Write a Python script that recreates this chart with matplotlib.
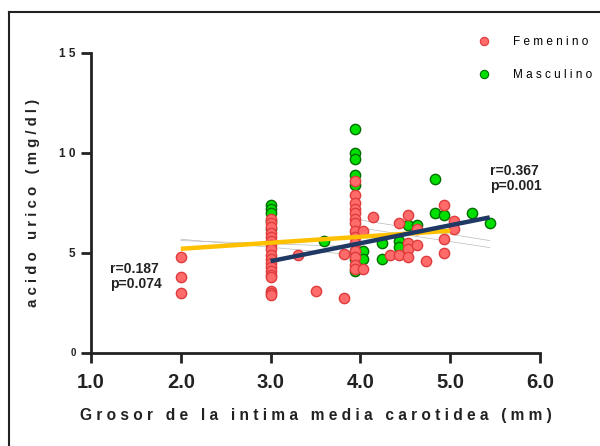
import matplotlib
matplotlib.use("Agg")
import matplotlib.pyplot as plt
from matplotlib.lines import Line2D

plt.rcParams['font.family'] = ['Liberation Sans', 'DejaVu Sans']

# Femenino points (grosor, acido urico)
fem_x = [2.0, 2.0, 2.0,
         3.0, 3.0, 3.0, 3.0, 3.0, 3.0, 3.0, 3.0, 3.0, 3.0, 3.0, 3.0, 3.0, 3.0, 3.0, 3.0, 3.0, 3.0,
         3.3, 3.5, 3.82, 3.82,
         3.94, 3.94, 3.94, 3.94, 3.94, 3.94, 3.94, 3.94, 3.94, 3.94, 3.94, 3.94, 3.94, 3.94,
         4.03, 4.03, 4.14, 4.33, 4.43, 4.43,
         4.53, 4.53, 4.53, 4.53, 4.63, 4.63, 4.73,
         4.93, 4.93, 4.93, 5.04, 5.04]
fem_y = [4.8, 3.8, 3.0,
         6.7, 6.5, 6.3, 6.0, 5.8, 5.6, 5.4, 5.2, 4.9, 4.7, 4.5, 4.3, 4.1, 3.9, 3.8, 3.1, 3.0, 2.9,
         4.9, 3.1, 4.95, 2.75,
         8.6, 7.9, 7.5, 7.2, 7.0, 6.7, 6.5, 6.1, 5.8, 5.5, 5.1, 4.8, 4.4, 4.2,
         6.1, 4.2, 6.8, 4.9, 6.5, 4.9,
         6.9, 5.5, 5.2, 4.8, 6.2, 5.4, 4.6,
         7.4, 5.7, 5.0, 6.6, 6.2]

# Masculino points
mas_x = [3.0, 3.0, 3.0, 3.0, 3.0,
         3.6,
         3.94, 3.94, 3.94, 3.94, 3.94, 3.94, 3.94, 3.94,
         4.03, 4.03, 4.24, 4.24, 4.43, 4.43,
         4.53, 4.63, 4.83, 4.83, 4.93, 5.24, 5.44]
mas_y = [7.4, 7.2, 7.0, 6.6, 6.2,
         5.6,
         11.2, 10.0, 9.7, 8.9, 8.4, 5.1, 4.7, 4.1,
         5.1, 4.7, 5.5, 4.7, 5.6, 5.3,
         6.4, 6.4, 8.7, 7.0, 6.9, 7.0, 6.5]

# regression lines
fem_fit_x = [2.0, 5.0]
fem_fit_y = [5.19, 6.09]
mas_fit_x = [3.0, 5.44]
mas_fit_y = [4.57, 6.76]

# faint confidence band lines
band_lines = [
    ([2.0, 3.9], [5.67, 4.9]),
    ([2.0, 3.9], [5.6, 5.3]),
    ([3.9, 5.44], [6.7, 5.6]),
    ([3.9, 5.44], [6.3, 5.25]),
]

fem_stats = "r=0.187\np=0.074"
mas_stats = "r=0.367\np=0.001"

x_ticks = [1, 2, 3, 4, 5, 6]
x_labels = ["1.0", "2.0", "3.0", "4.0", "5.0", "6.0"]
y_ticks = [0, 5, 10, 15]
y_labels = ["0", "5", "1 0", "1 5"]


def spaced(text):
    return "   ".join(" ".join(word) for word in text.split(" "))


dark = '#222222'
red_face, red_edge = '#FF6B6B', '#E03C3C'
green_face, green_edge = '#00E000', '#006E00'

fig = plt.figure(figsize=(6, 4.46), dpi=100)
ax = fig.add_axes([91 / 600, 1 - 352.5 / 446, 449 / 600, 299.8 / 446])

for bx, by in band_lines:
    ax.plot(bx, by, color='#BBBBBB', lw=0.5, zorder=1)

ax.scatter(mas_x, mas_y, s=55, color=green_face, edgecolors=green_edge, linewidths=1.0, zorder=2)
ax.scatter(fem_x, fem_y, s=55, color=red_face, edgecolors=red_edge, linewidths=1.0, zorder=3)

ax.plot(fem_fit_x, fem_fit_y, color='#FFC000', lw=3.2, solid_capstyle='butt', zorder=4)
ax.plot(mas_fit_x, mas_fit_y, color='#1F3864', lw=3.2, solid_capstyle='butt', zorder=5)

ax.text(1.21, 4.55, fem_stats, fontsize=10, fontweight='bold', color=dark,
        va='top', ha='left', linespacing=1.15)
ax.text(5.44, 9.45, mas_stats, fontsize=10, fontweight='bold', color=dark,
        va='top', ha='left', linespacing=1.15)

ax.set_xlim(1, 6)
ax.set_ylim(0, 15)
ax.set_xticks(x_ticks)
ax.set_xticklabels(x_labels, fontsize=14.5, fontweight='bold', color=dark)
ax.set_yticks(y_ticks)
ax.set_yticklabels(y_labels, fontweight='bold', color=dark, fontsize=8.5)
ax.get_yticklabels()[0].set_fontsize(7)

for side in ['top', 'right']:
    ax.spines[side].set_visible(False)
for side in ['left', 'bottom']:
    ax.spines[side].set_linewidth(2)
    ax.spines[side].set_color(dark)
ax.tick_params(axis='both', direction='out', length=7, width=2, color=dark)
ax.tick_params(axis='x', pad=8)
ax.tick_params(axis='y', pad=4)

ax.set_xlabel(spaced("Grosor de la intima media carotidea (mm)"), fontsize=11.2,
              fontweight='bold', color=dark, labelpad=11)
ax.set_ylabel(spaced("acido urico (mg/dl)"), fontsize=10.8, fontweight='bold',
              color=dark, labelpad=14)

handles = [
    Line2D([], [], ls='none', marker='o', markersize=6, markerfacecolor=red_face,
           markeredgecolor=red_edge, markeredgewidth=0.8),
    Line2D([], [], ls='none', marker='o', markersize=6, markerfacecolor=green_face,
           markeredgecolor=green_edge, markeredgewidth=0.8),
]
fig.legend(handles, [spaced("Femenino"), spaced("Masculino")], loc='upper left',
           bbox_to_anchor=(478 / 600, 1 - 36 / 446), frameon=False, fontsize=8.5,
           borderpad=0, borderaxespad=0, handlelength=1.05, handletextpad=1.95,
           labelspacing=1.75)

# outer frame (left and top edges visible)
fig.add_artist(Line2D([9 / 600, 9 / 600], [0, 1 - 12 / 446], color=dark, lw=1.5))
fig.add_artist(Line2D([9 / 600, 1], [1 - 12 / 446, 1 - 12 / 446], color=dark, lw=1.5))

fig.savefig("out.png", dpi=100)
